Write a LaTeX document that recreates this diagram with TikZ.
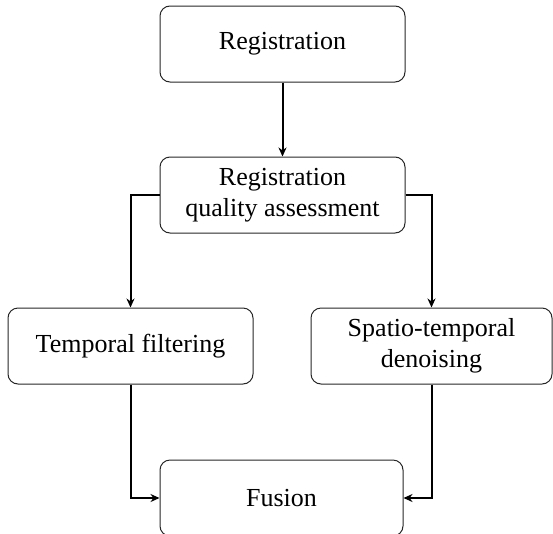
\documentclass[tikz,border=0pt]{standalone}
\usepackage{fontspec}
\setmainfont{Liberation Serif}
\usetikzlibrary{arrows.meta}
\begin{document}
\begin{tikzpicture}[x=1pt,y=-1pt,
  box/.style={draw=black!85, line width=1pt, rounded corners=10pt, inner sep=0pt,
    minimum width=245pt, minimum height=76pt, align=center,
    font=\fontsize{26}{31}\selectfont},
  conn/.style={line width=2pt, -{Stealth[length=9pt,width=8pt]}}]
\useasboundingbox (0,0) rectangle (553,533);
\clip (0,0) rectangle (553,533);
\node[box] (reg) at (282.5,44) {Registration};
\node[box] (rqa) at (282.5,195) {Registration\\quality assessment};
\node[box] (tf) at (130.5,346) {Temporal filtering};
\node[box, minimum width=241pt] (st) at (431.5,346) {Spatio-temporal\\denoising};
\node[box, minimum width=243pt] (fus) at (281.5,498) {Fusion};
\draw[conn] (reg) -- (rqa);
\draw[conn] (rqa.west) -| (tf.north);
\draw[conn] (rqa.east) -| (st.north);
\draw[conn] (tf.south) |- (fus.west);
\draw[conn] (st.south) |- (fus.east);
\end{tikzpicture}
\end{document}
